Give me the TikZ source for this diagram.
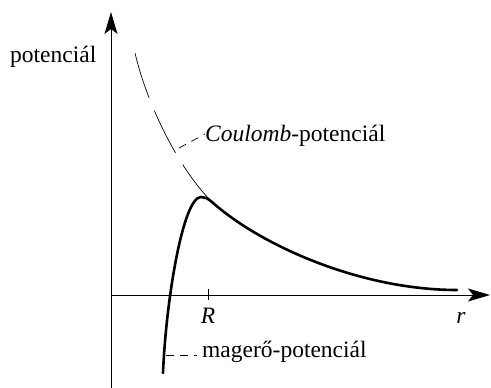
\documentclass[tikz,border=0pt]{standalone}
\usepackage{fontspec}
\setmainfont{Liberation Serif}
\usetikzlibrary{arrows.meta}
\begin{document}
\begin{tikzpicture}[x=1pt,y=-1pt,
  axis/.style={line width=1pt,-{Stealth[length=22pt,width=13pt,inset=5pt]}},
  pot/.style={line width=2.6pt,line cap=round,line join=round},
  coul/.style={line width=0.7pt,dash pattern=on 47pt off 14pt},
  leader/.style={line width=0.7pt,dash pattern=on 8pt off 6pt},
  lbl/.style={font=\fontsize{23.5}{26}\selectfont,inner sep=0pt}]
\useasboundingbox (0,0) rectangle (491,388);
% axes
\coordinate (o) at (111,295);
\coordinate (ybot) at (111,388);
\coordinate (ytop) at (111,12);
\coordinate (xend) at (490,295);
\draw[axis] (ybot) -- (ytop);
\draw[axis] (o) -- (xend);
% tick
\coordinate (Rt) at (208,289);
\coordinate (Rb) at (208,300);
\draw[line width=0.7pt] (Rt) -- (Rb);
% labels
\node[lbl,anchor=base west] (ylab) at (10,63) {potenciál};
\node[lbl,anchor=base] (Rlab) at (208,323) {\itshape R};
\node[lbl,anchor=base] (rlab) at (461,323) {\itshape r};
\node[lbl,anchor=base west] (clab) at (205,141) {\textit{Coulomb}-potenciál};
\node[lbl,anchor=base west] (mlab) at (202,357) {magerő-potenciál};
% Coulomb dashed curve
\draw[coul] (135,53) .. controls (148,108) and (180,170) .. (212,202);
% solid potential
\draw[pot] (163,373) .. controls (166,300) and (183,197) .. (201,197)
  .. controls (205,197) and (207,198) .. (212,202)
  .. controls (260,245) and (360,290) .. (457,290);
% leaders
\coordinate (cl) at (179,148);
\draw[leader] (cl) -- (clab.base west |- 0,134);
\coordinate (ml) at (166,355);
\coordinate (mr) at (197,355);
\draw[leader] (ml) -- (mr);
\end{tikzpicture}
\end{document}
